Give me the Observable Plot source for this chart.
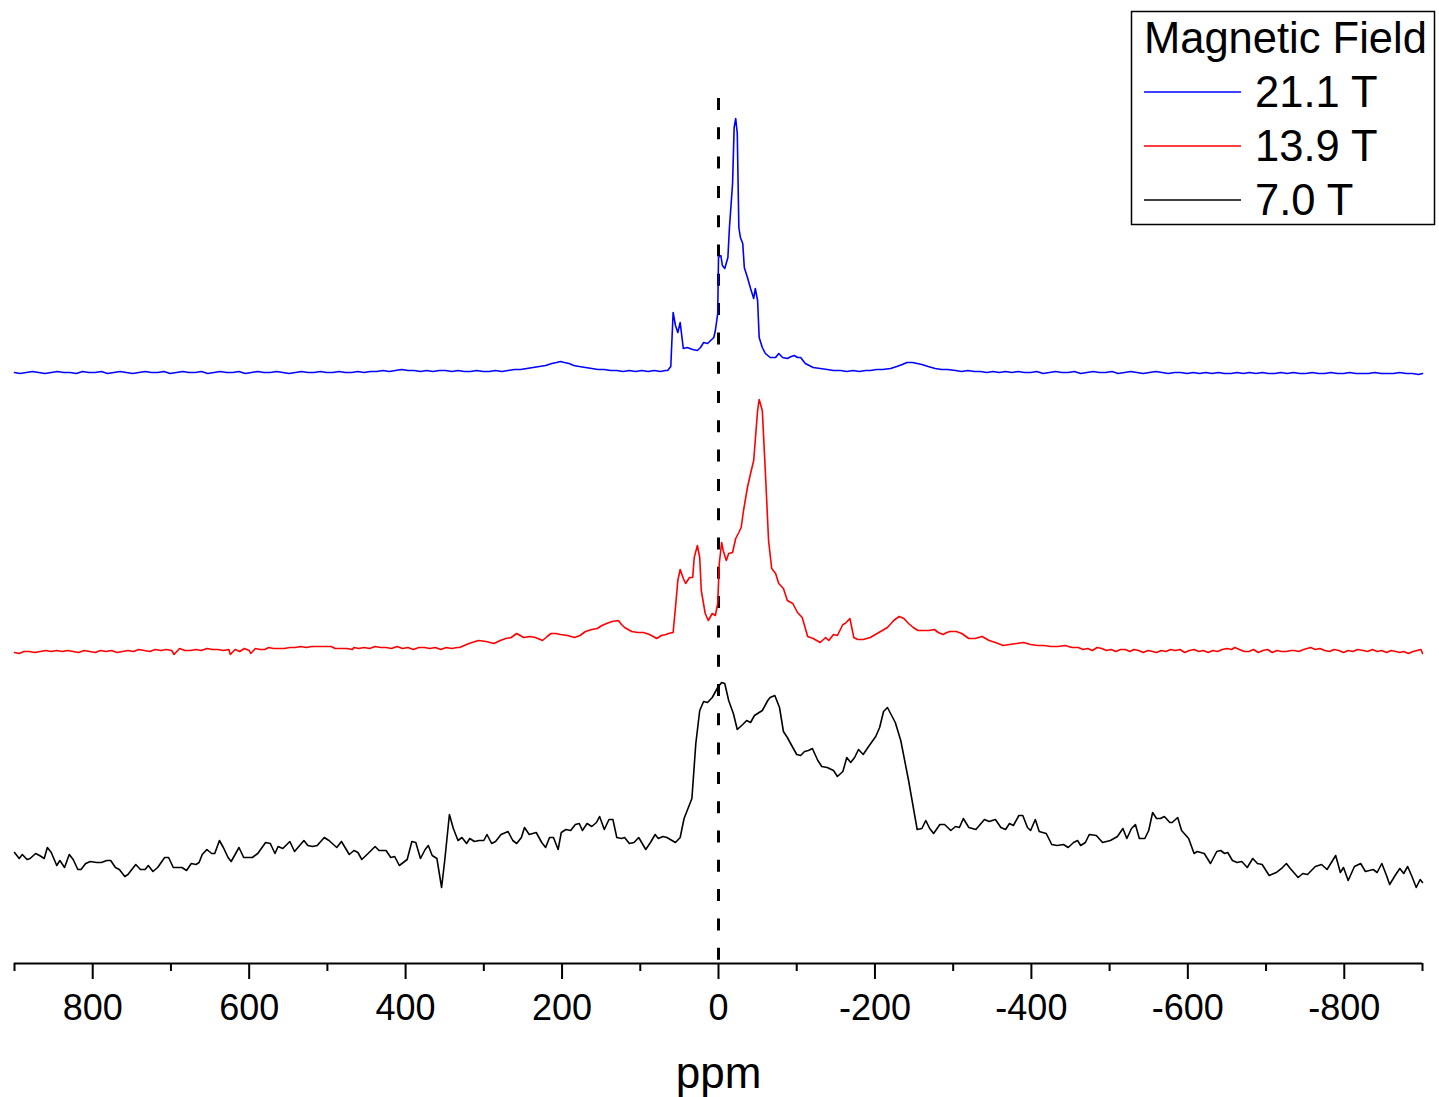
<!DOCTYPE html>
<html><head><meta charset="utf-8">
<script src="https://cdn.jsdelivr.net/npm/d3@7"></script>
<script src="https://cdn.jsdelivr.net/npm/@observablehq/plot@0.6"></script>
<style>
html,body{margin:0;padding:0;background:#fff;}
#wrap{position:relative;width:1439px;height:1097px;font-family:Arial,"Liberation Sans",sans-serif;}
#legend{position:absolute;left:1130px;top:10px;}
</style></head><body><div id="wrap"></div>
<script>
// Series labels, colours and vertical stacking offsets
const fields = ["21.1 T", "13.9 T", "7.0 T"];
const colors = ["#0000ff", "#ff0000", "#000000"];
const offsets = [591, 311, 0];
const legendTitle = "Magnetic Field";
const xLabel = "ppm";
const majorTicks = [800, 600, 400, 200, 0, -200, -400, -600, -800];
const minorTicks = [900, 700, 500, 300, 100, -100, -300, -500, -700, -900];
const dashTop = 865;

// [ppm, intensity]
const spectrum211 = [[900,0],[893,-1],[885,0],[877,1],[869,0],[861,-1],[853,0],[845,1],[837,0],[829,0],[821,-1],[813,1],[805,0],[797,0],[789,1],[781,-1],[773,0],[765,1],[757,0],[749,-1],[741,0],[733,1],[725,0],[717,0],[709,1],[701,-1],[693,0],[685,1],[677,0],[669,0],[661,1],[653,-1],[645,0],[637,1],[629,0],[621,0],[613,1],[605,-1],[597,0],[589,1],[581,0],[573,0],[565,1],[557,0],[549,-1],[541,0],[533,1],[525,0],[517,0],[509,1],[501,0],[493,0],[485,1],[477,0],[469,0],[461,1],[453,0],[445,1],[437,1],[429,2],[421,1],[413,2],[405,3],[397,2],[389,2],[381,1],[373,2],[365,1],[357,2],[349,2],[341,1],[333,2],[325,1],[317,1],[309,2],[301,1],[293,1],[285,2],[277,1],[269,2],[261,3],[253,3],[245,4],[237,5],[229,6],[221,7],[213,9],[207,10],[202,11],[197,10],[191,9],[185,7],[178,6],[170,5],[162,4],[154,3],[146,3],[138,2],[130,2],[122,1],[114,2],[106,1],[98,2],[90,1],[82,2],[74,1],[68,2],[65,2],
[61,6],[58,60],[55,47],[52,40],[49,50],[45,24],[40,25],[33,23],[27,22],[23,25],[19,30],[14,29],[10,32],[6,35],[4,42],[1,59],[0,115],[-3,117],[-5,107],[-8,104],[-12,115],[-14,145],[-18,189],[-20,245],[-22,254],[-24,239],[-26,145],[-28,135],[-31,129],[-33,105],[-37,95],[-41,84],[-45,74],[-47,84],[-50,72],[-52,35],[-56,25],[-60,19],[-66,15],[-73,15],[-77,19],[-82,15],[-88,14],[-93,16],[-97,17],[-101,15],[-105,15],[-111,9],[-121,5],[-130,4],[-139,3],[-147,2],[-156,2],
[-164,1],[-172,2],[-180,1],[-188,2],[-194,2],[-202,3],[-210,3],[-220,4],[-228,6],[-235,8],[-241,10],[-248,10],[-254,9],[-260,8],[-268,6],[-277,4],[-285,3],[-293,3],[-303,2],[-311,1],[-319,2],[-327,1],[-335,1],[-343,0],[-351,1],[-359,0],[-367,1],[-375,0],[-383,1],[-391,0],[-399,0],[-407,1],[-415,-1],[-423,0],[-431,1],[-439,0],[-447,0],[-455,1],[-463,-1],[-471,0],[-479,1],[-487,0],[-495,0],[-503,1],[-511,-1],[-519,0],[-527,1],[-535,0],[-543,-1],[-551,0],[-559,1],[-567,0],[-575,-1],[-583,0],[-591,0],[-599,-1],[-607,0],[-615,-1],[-623,0],[-631,-1],[-639,0],[-647,-1],[-655,-1],[-663,0],[-671,-1],[-679,0],[-687,-1],[-695,0],[-703,-1],[-711,-1],[-719,0],[-727,-1],[-735,0],[-743,-1],[-751,-1],[-759,0],[-767,-1],[-775,-1],[-783,0],[-791,-1],[-799,-1],[-807,0],[-815,-1],[-823,-1],[-831,-1],[-839,0],[-847,-1],[-855,-1],[-863,-1],[-871,0],[-879,-1],[-887,-1],[-895,-2],[-900,-1]];

const spectrum139 = [[900,0],[894,-1],[888,1],[881,1],[874,0],[867,1],[860,2],[853,1],[846,2],[839,1],[832,2],[825,1],[818,0],[811,2],[804,1],[797,0],[790,2],[783,1],[776,2],[769,0],[762,1],[755,2],[748,1],[741,3],[734,2],[727,1],[720,3],[713,2],[706,3],[699,2],[696,-2],[689,4],[682,2],[675,2],[668,3],[661,2],[654,4],[647,3],[640,3],[633,2],[626,3],[624,-2],[618,3],[612,1],[606,4],[600,2],[598,-1],[592,4],[586,3],[580,3],[575,5],[569,4],[562,4],[555,4],[548,5],[541,5],[534,6],[527,5],[520,6],[513,6],[506,6],[499,6],[495,6],[490,4],[482,4],[475,4],[468,3],[466,5],[460,4],[453,5],[446,4],[439,6],[432,5],[425,5],[418,4],[411,6],[404,4],[397,5],[390,3],[383,5],[376,5],[369,4],[362,5],[355,3],[348,5],[341,4],[334,5],[331,5],
[319,9],[307,12],[297,11],[287,9],[279,12],[272,14],[265,15],[258,19],[249,15],[241,16],[234,15],[225,12],[219,16],[214,19],[208,19],[202,18],[193,17],[184,15],[177,17],[170,21],[162,23],[155,24],[149,27],[143,29],[136,31],[128,32],[124,28],[120,25],[111,21],[103,20],[96,20],[88,18],[79,14],[73,17],[67,18],[64,19],[58,20],[55,45],[52,72],[49,83],[45,74],[42,69],[37,75],[33,75],[31,95],[27,107],[24,95],[22,62],[17,39],[13,32],[8,39],[4,37],[1,49],[-1,89],[-4,110],[-6,102],[-10,92],[-13,99],[-18,100],[-22,114],[-26,120],[-29,125],[-32,142],[-37,165],[-41,179],[-45,192],[-50,242],[-52,253],[-56,242],[-60,179],[-64,112],[-68,84],[-73,79],[-77,69],[-83,64],[-88,52],[-95,49],[-101,40],[-107,35],[-114,16],[-121,14],[-130,10],[-137,15],[-141,12],[-147,18],[-152,17],[-159,28],[-162,29],[-168,34],[-173,15],[-178,13],[-185,13],[-194,15],[-205,20],[-216,25],[-224,32],[-231,36],[-237,34],[-243,29],[-249,25],[-255,22],[-262,22],[-269,22],[-276,23],[-281,20],[-287,18],[-292,20],[-296,21],[-304,21],[-311,19],[-320,14],[-328,14],[-337,16],[-346,12],[-354,10],[-364,7],[-372,8],[-381,9],[-390,10],[-399,8],[-408,7],[-416,7],[-425,6],[-434,6],[-443,7],[-452,5],[-460,5],[-466,3],[-472,4],[-478,2],[-484,5],[-490,4],[-496,2],[-502,3],[-508,1],[-514,3],[-520,3],[-526,1],[-531,3],[-537,2],[-543,0],[-549,2],[-555,1],[-560,0],[-566,2],[-572,1],[-578,3],[-584,2],[-590,3],[-596,0],[-602,2],[-608,3],[-614,1],[-620,2],[-626,0],[-632,2],[-638,1],[-644,3],[-650,4],[-656,3],[-660,5],[-666,3],[-672,1],[-678,1],[-684,3],[-690,0],[-696,2],[-702,3],[-708,0],[-714,2],[-720,1],[-726,1],[-732,2],[-736,2],[-742,1],[-748,3],[-757,5],[-763,3],[-769,4],[-775,2],[-781,1],[-787,3],[-793,2],[-799,0],[-805,2],[-811,1],[-817,3],[-824,2],[-830,1],[-836,3],[-842,1],[-848,2],[-854,0],[-860,2],[-866,1],[-871,0],[-876,1],[-882,-1],[-888,1],[-893,2],[-898,3],[-900,-1]];

const spectrum70 = [[900,111],[894,105],[890,109],[884,104],[880,105],[873,110],[868,108],[862,105],[858,116],[853,111],[846,98],[842,103],[836,96],[830,109],[825,104],[819,94],[815,94],[809,100],[803,102],[795,101],[789,101],[782,103],[777,103],[771,96],[766,94],[759,87],[755,89],[745,99],[739,94],[733,94],[729,98],[723,92],[717,96],[708,106],[703,106],[697,96],[686,96],[680,93],[674,100],[668,99],[664,101],[660,109],[654,114],[648,110],[644,110],[638,123],[633,116],[627,106],[623,102],[613,116],[607,106],[596,106],[589,110],[579,121],[573,120],[567,110],[563,117],[557,115],[548,122],[542,112],[530,123],[525,118],[519,117],[513,118],[504,126],[498,123],[488,116],[482,122],[472,109],[466,113],[461,111],[456,104],[448,110],[439,117],[434,113],[425,113],[419,106],[414,107],[408,98],[398,104],[392,122],[387,121],[381,105],[375,114],[371,118],[366,108],[360,105],[354,76],[350,103],[344,149],[339,135],[333,123],[328,126],[322,120],[318,125],[312,122],[306,123],[300,123],[296,129],[290,120],[285,122],[278,129],[272,131],[269,132],[263,123],[258,120],[252,126],[248,136],[242,129],[233,131],[226,121],[221,116],[216,126],[211,126],[205,114],[201,131],[195,134],[189,133],[183,139],[178,140],[174,133],[168,140],[162,137],[156,141],[152,147],[146,134],[140,144],[135,144],[130,126],[124,125],[120,126],[114,120],[108,121],[102,126],[93,114],[87,121],[81,129],[77,125],[71,127],[66,126],[55,121],[49,126],[44,145],[39,155],[34,165],[29,220],[24,253],[19,262],[14,261],[8,266],[1,276],[-4,281],[-8,280],[-13,263],[-19,250],[-24,234],[-31,239],[-36,243],[-41,241],[-46,248],[-56,253],[-63,263],[-66,266],[-72,268],[-78,256],[-83,232],[-88,226],[-95,216],[-100,209],[-105,208],[-110,212],[-115,213],[-120,215],[-127,203],[-132,197],[-139,196],[-147,193],[-152,187],[-159,192],[-164,206],[-169,201],[-174,206],[-179,214],[-185,209],[-191,216],[-201,227],[-206,236],[-211,252],[-216,256],[-226,241],[-233,223],[-243,183],[-254,134],[-260,135],[-265,143],[-270,135],[-275,130],[-283,139],[-289,139],[-297,133],[-303,137],[-308,136],[-313,145],[-320,136],[-329,134],[-340,144],[-346,142],[-354,144],[-361,136],[-367,134],[-372,140],[-377,138],[-384,148],[-389,148],[-395,136],[-399,133],[-405,144],[-410,132],[-419,130],[-426,119],[-433,118],[-441,119],[-447,116],[-454,121],[-459,123],[-463,118],[-469,121],[-474,129],[-483,128],[-491,121],[-501,123],[-510,127],[-517,135],[-522,125],[-528,135],[-533,139],[-538,125],[-545,125],[-550,133],[-555,151],[-560,145],[-565,145],[-570,147],[-577,141],[-580,141],[-587,146],[-592,133],[-601,125],[-608,110],[-612,112],[-621,110],[-629,100],[-637,112],[-642,113],[-647,110],[-651,111],[-657,103],[-663,101],[-669,102],[-676,96],[-683,105],[-689,100],[-695,99],[-704,88],[-713,91],[-721,96],[-726,100],[-731,95],[-741,86],[-747,90],[-753,89],[-763,97],[-771,99],[-778,94],[-789,108],[-795,91],[-799,96],[-805,83],[-813,97],[-821,100],[-827,92],[-837,94],[-842,91],[-848,100],[-854,88],[-858,79],[-865,88],[-871,95],[-876,90],[-881,97],[-886,88],[-892,76],[-897,84],[-900,81]];

const spectra = [spectrum211, spectrum139, spectrum70];
const rows = [];
spectra.forEach((s, i) => s.forEach(([p, v]) => rows.push({ppm: p, intensity: v + offsets[i], field: fields[i]})));

const font = 'Arial, "Liberation Sans", sans-serif';
const plot = Plot.plot({
  width: 1439, height: 1097,
  marginLeft: 14, marginRight: 17, marginTop: 0, marginBottom: 134,
  style: {fontFamily: font, background: "white", color: "black", overflow: "visible"},
  x: {domain: [900, -900], label: null},
  y: {domain: [0, 963], axis: null, label: null},
  color: {domain: fields, range: colors},
  marks: [
    Plot.ruleX([0], {y1: dashTop, y2: 0, stroke: "black", strokeWidth: 3, strokeDasharray: "12,17.3"}),
    Plot.line(rows, {x: "ppm", y: "intensity", z: "field", stroke: "field", strokeWidth: 1.6}),
    Plot.ruleY([0], {stroke: "black", strokeWidth: 2}),
    Plot.axisX(majorTicks, {tickSize: 16, tickPadding: 15, fontSize: 36, strokeWidth: 2, tickFormat: d => String(d), label: null}),
    Plot.axisX(minorTicks, {tickSize: 8, strokeWidth: 2, tickFormat: () => "", label: null}),
    Plot.text([xLabel], {frameAnchor: "bottom", dy: 124, fontSize: 44, lineAnchor: "bottom", text: d => d})
  ]
});
const wrap = document.getElementById("wrap");
wrap.appendChild(plot);

// Legend (boxed, top right)
const lg = d3.create("svg").attr("id", "legend").attr("width", 307).attr("height", 216)
  .style("font-family", font);
lg.append("rect").attr("x", 1.5).attr("y", 1.5).attr("width", 303).attr("height", 213)
  .attr("fill", "white").attr("stroke", "black").attr("stroke-width", 1.5);
lg.append("text").attr("x", 14).attr("y", 43).attr("font-size", 43.5).text(legendTitle);
fields.forEach((f, i) => {
  const yy = 82 + i * 54;
  lg.append("line").attr("x1", 14).attr("x2", 111).attr("y1", yy).attr("y2", yy)
    .attr("stroke", colors[i]).attr("stroke-width", 1.3);
  lg.append("text").attr("x", 125).attr("y", yy + 15).attr("font-size", 43.5).text(f);
});
wrap.appendChild(lg.node());
</script></body></html>
